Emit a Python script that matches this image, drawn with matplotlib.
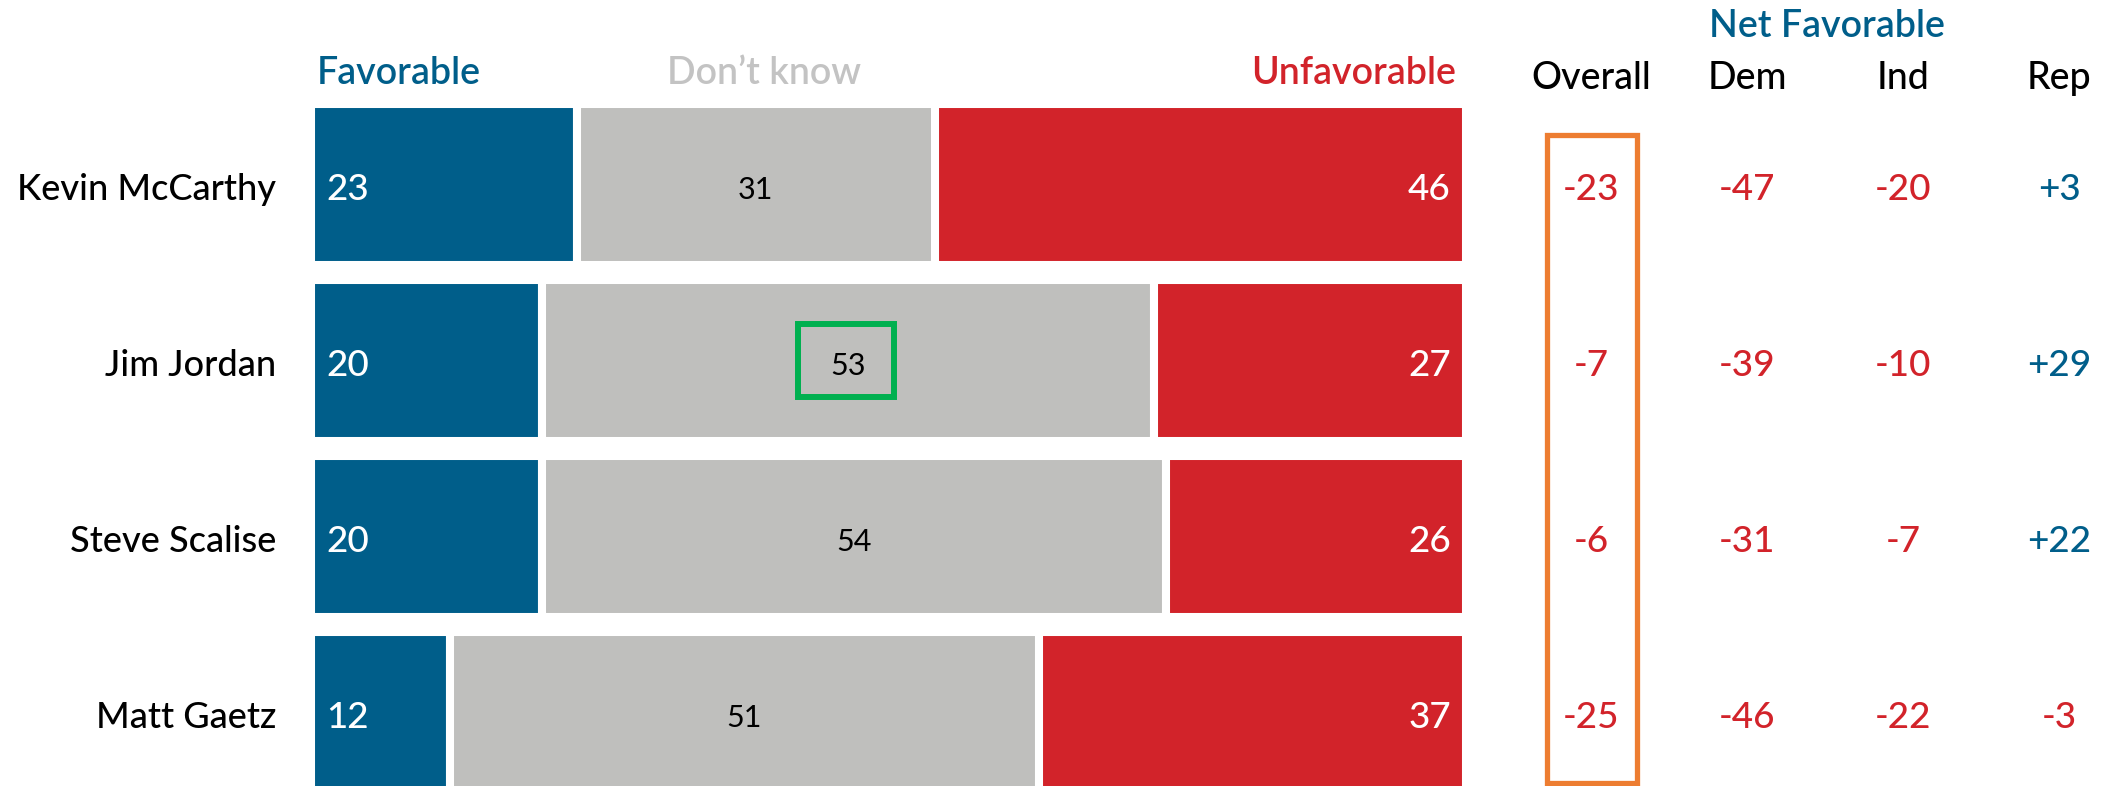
import matplotlib.pyplot as plt
from matplotlib.patches import Rectangle

plt.rcParams['font.family'] = ['Lato', 'DejaVu Sans']

names = ['Kevin McCarthy', 'Jim Jordan', 'Steve Scalise', 'Matt Gaetz']
favorable = [23, 20, 20, 12]
dont_know = [31, 53, 54, 51]
unfavorable = [46, 27, 26, 37]

net_cols = ['Overall', 'Dem', 'Ind', 'Rep']
net_overall = [-23, -7, -6, -25]
net_dem = [-47, -39, -31, -46]
net_ind = [-20, -10, -7, -22]
net_rep = [3, 29, 22, -3]

BLUE = '#005e8a'
RED = '#d2232a'
GRAY = '#bfbfbd'

W, H = 2118, 786
fig = plt.figure(figsize=(W / 100, H / 100), dpi=100)


def px_axes(x0, x1, y0, y1):
    # box in pixels measured from the top left -> figure fraction
    ax = fig.add_axes([x0 / W, 1 - y1 / H, (x1 - x0) / W, (y1 - y0) / H])
    ax.set_axis_off()
    return ax


pitch = 176
top = 184.5 - pitch / 2
bottom = 184.5 + pitch * 3.5
dy = 0.03  # text sits a touch below the row centre

# stacked bars
ax = px_axes(311, 1466, top, bottom)
ax.set_xlim(0, 100)
ax.set_ylim(3.5, -0.5)
rows = range(len(names))
left_dk = [f for f in favorable]
left_un = [f + d for f, d in zip(favorable, dont_know)]
kw = dict(height=0.915, edgecolor='white', linewidth=5.8)
ax.barh(rows, favorable, color=BLUE, **kw)
ax.barh(rows, dont_know, left=left_dk, color=GRAY, **kw)
ax.barh(rows, unfavorable, left=left_un, color=RED, **kw)

for i in rows:
    ax.annotate(names[i], (0, i + dy), xytext=(-25, 0), textcoords='offset points',
                ha='right', va='center', fontsize=26, fontweight='medium', color='black')
    ax.annotate(str(favorable[i]), (0, i + dy), xytext=(11, 0), textcoords='offset points',
                ha='left', va='center', fontsize=26.5, fontweight='medium', color='white')
    ax.text(left_dk[i] + dont_know[i] / 2, i + dy, str(dont_know[i]), ha='center', va='center',
            fontsize=22, color='black')
    ax.annotate(str(unfavorable[i]), (100, i + dy), xytext=(-11, 0), textcoords='offset points',
                ha='right', va='center', fontsize=26.5, fontweight='medium', color='white')

hy = -0.63
ax.annotate('Favorable', (0, hy), xytext=(4, 0), textcoords='offset points', ha='left',
            va='center', fontsize=27, fontweight='semibold', color=BLUE, annotation_clip=False)
ax.text(39.2, hy, 'Don\u2019t know', ha='center', va='center', fontsize=27,
        fontweight='semibold', color='#c3c3c3', clip_on=False)
ax.annotate('Unfavorable', (100, hy), xytext=(-7, 0), textcoords='offset points', ha='right',
            va='center', fontsize=27, fontweight='semibold', color=RED, annotation_clip=False)

# highlight box around Jim Jordan's don't know
ax.add_patch(Rectangle((42.2, 1 - 0.21), 8.3, 0.42, fill=False, edgecolor='#00b050',
                       linewidth=4.3, zorder=5))

# net favorable table
nt = px_axes(1513, 2137, top, bottom)
nt.set_xlim(-0.5, 3.5)
nt.set_ylim(3.5, -0.5)
net_vals = [net_overall, net_dem, net_ind, net_rep]
for j, col in enumerate(net_cols):
    nt.text(j, -0.6, col, ha='center', va='center', fontsize=27, fontweight='medium',
            color='black', clip_on=False)
    for i in rows:
        v = net_vals[j][i]
        nt.text(j, i + dy, f'{v:+d}', ha='center', va='center', fontsize=26.5,
                fontweight='medium', color=BLUE if v > 0 else RED)
nt.text(1.51, -0.895, 'Net Favorable', ha='center', va='center', fontsize=27,
        fontweight='semibold', color=BLUE, clip_on=False)

nt.add_patch(Rectangle((-0.28, -0.28), 0.575, 3.68, fill=False, edgecolor='#ed7d31',
                       linewidth=3.8, clip_on=False))

fig.savefig('out.png', dpi=100, facecolor='white')
